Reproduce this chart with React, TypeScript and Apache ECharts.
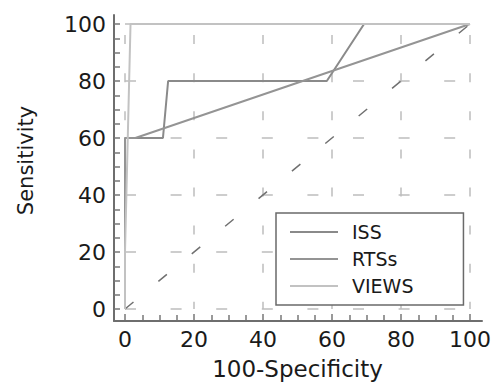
import React, { useEffect, useRef } from "react";
import * as echarts from "echarts";

const xTicks = [0, 20, 40, 60, 80, 100];
const seriesNames = ["ISS", "RTSs", "VIEWS"];
const issX = [0, 0, 11, 12.5, 58.5, 69.3, 100];
const issY = [0, 60, 60, 80, 80, 100, 100];
const rtsX = [0, 0, 3, 100];
const rtsY = [0, 60, 60, 100];
const viewsX = [0, 0, 1.6, 100];
const viewsY = [0, 20, 100, 100];
const refX = [0, 100];
const refY = [0, 100];

const zip = (xs: number[], ys: number[]) => xs.map((x, i) => [x, ys[i]]);

const FONT = "DejaVu Sans";

export default function App() {
  const ref = useRef<HTMLDivElement>(null);
  useEffect(() => {
    if (!ref.current) return;
    const chart = echarts.init(ref.current, null, { renderer: "svg" });
    const tickStyle = { color: "#777", width: 1.5 };
    const labelStyle = { fontSize: 22, fontFamily: FONT, color: "#1a1a1a" };
    chart.setOption({
      animation: false,
      backgroundColor: "#fff",
      grid: [
        { left: 125, right: 24, top: 24, bottom: 75 },
        { left: 114, right: 12, top: 15, bottom: 64 },
      ],
      xAxis: [
        {
          type: "value",
          gridIndex: 0,
          min: xTicks[0],
          max: xTicks[xTicks.length - 1],
          interval: 20,
          offset: 11,
          axisLine: { show: false, onZero: false },
          axisTick: { show: true, inside: true, length: 6, lineStyle: tickStyle },
          minorTick: { show: true, splitNumber: 4, length: 5, lineStyle: tickStyle },
          axisLabel: { ...labelStyle, margin: 8 },
          splitLine: {
            show: true,
            lineStyle: { color: "#bdbdbd", width: 1.5, type: [9, 29.1], dashOffset: 27 },
          },
          name: "100-Specificity",
          nameLocation: "middle",
          nameGap: 37,
          nameTextStyle: { fontSize: 23, fontFamily: FONT, color: "#1a1a1a" },
        },
        {
          type: "value",
          gridIndex: 1,
          min: 0,
          max: 1,
          axisLine: { show: true, onZero: false, lineStyle: { color: "#6e6e6e", width: 2 } },
          axisTick: { show: false },
          axisLabel: { show: false },
          splitLine: { show: false },
        },
      ],
      yAxis: [
        {
          type: "value",
          gridIndex: 0,
          min: xTicks[0],
          max: xTicks[xTicks.length - 1],
          interval: 20,
          offset: 11,
          axisLine: { show: false, onZero: false },
          axisTick: { show: true, inside: true, length: 6, lineStyle: tickStyle },
          minorTick: { show: true, splitNumber: 4, length: 6, lineStyle: tickStyle },
          axisLabel: { ...labelStyle, margin: 8 },
          splitLine: {
            show: true,
            lineStyle: { color: "#bdbdbd", width: 1.5, type: [11, 34.6], dashOffset: 0 },
          },
          name: "Sensitivity",
          nameLocation: "middle",
          nameRotate: 90,
          nameGap: 78,
          nameTextStyle: { fontSize: 21, fontFamily: FONT, color: "#1a1a1a", padding: [0, 0, 0, 12] },
        },
        {
          type: "value",
          gridIndex: 1,
          min: 0,
          max: 1,
          axisLine: { show: true, onZero: false, lineStyle: { color: "#6e6e6e", width: 2 } },
          axisTick: { show: false },
          axisLabel: { show: false },
          splitLine: { show: false },
        },
      ],
      legend: {
        data: seriesNames,
        orient: "vertical",
        left: 276,
        top: 213,
        padding: [9, 50, 9, 14],
        icon: "rect",
        itemWidth: 48,
        itemHeight: 2,
        itemGap: 7,
        backgroundColor: "#fff",
        borderColor: "#6a6a6a",
        borderWidth: 1.5,
        borderRadius: 0,
        textStyle: {
          fontSize: 19,
          fontFamily: FONT,
          color: "#1a1a1a",
          lineHeight: 20,
          padding: [0, 0, 0, 9],
        },
      },
      series: [
        {
          name: "ref",
          type: "line",
          xAxisIndex: 0,
          yAxisIndex: 0,
          data: zip(refX, refY),
          symbol: "none",
          silent: true,
          lineStyle: { color: "#707070", width: 1.5, type: [11, 32.3] },
          z: 1,
        },
        {
          name: seriesNames[0],
          type: "line",
          xAxisIndex: 0,
          yAxisIndex: 0,
          data: zip(issX, issY),
          symbol: "none",
          color: "#8a8a8a",
          lineStyle: { color: "#8a8a8a", width: 2 },
        },
        {
          name: seriesNames[1],
          type: "line",
          xAxisIndex: 0,
          yAxisIndex: 0,
          data: zip(rtsX, rtsY),
          symbol: "none",
          color: "#949494",
          lineStyle: { color: "#949494", width: 2 },
        },
        {
          name: seriesNames[2],
          type: "line",
          xAxisIndex: 0,
          yAxisIndex: 0,
          data: zip(viewsX, viewsY),
          symbol: "none",
          color: "#c2c2c2",
          lineStyle: { color: "#c2c2c2", width: 2 },
        },
      ],
    });
    return () => chart.dispose();
  }, []);
  return (
    <div
      ref={ref}
      style={{ position: "absolute", left: 0, top: 0, width: 494, height: 385 }}
    />
  );
}
